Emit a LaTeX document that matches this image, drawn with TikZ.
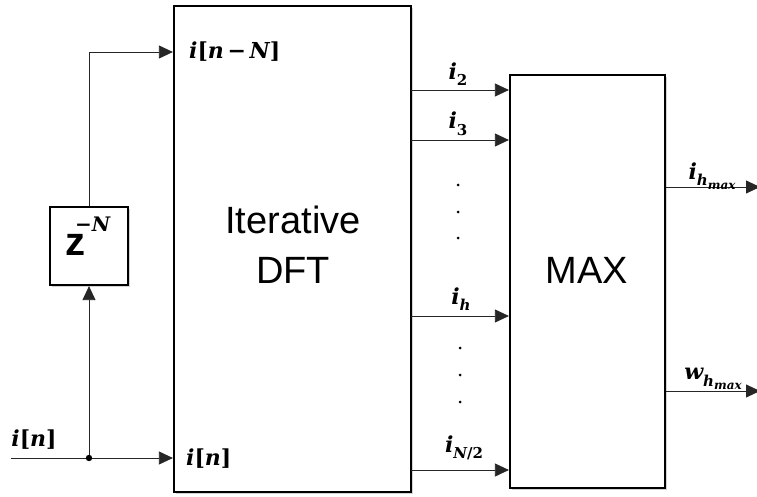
\documentclass[tikz,border=0pt]{standalone}
\usepackage{fontspec}
\setmainfont{Liberation Sans}
\newfontfamily\lf{DejaVu Serif}
\newcommand\bi[1]{{\lf\bfseries\itshape #1}}
\newcommand\bu[1]{{\lf\bfseries #1}}
\newcommand\lsub[1]{\raisebox{-0.3em}{\fontsize{15}{16}\selectfont #1}}
\newcommand\lssub[1]{\raisebox{-0.25em}{\fontsize{12}{13}\selectfont #1}}
\usetikzlibrary{arrows.meta,shadows}
\tikzset{
  blk/.style={draw=black, line width=2.2pt, fill=white, inner sep=0pt,
    drop shadow={shadow xshift=1.6pt, shadow yshift=-1.6pt, opacity=0.35, fill=gray}},
  arr/.style={line width=0.8pt, draw=black!85, -{Triangle[length=14pt,width=13pt]}},
  wire/.style={line width=0.8pt, draw=black!85},
  lbl/.style={font=\fontsize{22}{24}\selectfont, inner sep=0pt},
  big/.style={font=\fontsize{38}{40}\selectfont, inner sep=0pt, anchor=base},
  vdot/.style={fill=black, circle, inner sep=0pt, minimum size=3pt}
}
\begin{document}
\begin{tikzpicture}[x=1pt,y=-1pt]
\useasboundingbox (0,0) rectangle (757,497);
% blocks
\node[blk, minimum width=237pt, minimum height=486pt] (dft) at (292.5,249) {};
\node[blk, minimum width=155pt, minimum height=413pt] (max) at (587.5,281.5) {};
\node[blk, minimum width=78pt, minimum height=78pt] (zb) at (89,246) {};
% block texts
\node[big] (t1) at (293,233) {Iterative};
\node[big] (t2) at (293,283) {DFT};
\node[big] (t3) at (587,283) {MAX};
\node[font=\fontsize{40}{42}\selectfont, inner sep=0pt, anchor=base west] (zz) at (65,255)
  {\textbf{z}\kern-10pt\raisebox{24pt}{\fontsize{20}{21}\selectfont\bu{−}\bi{N}}};
% input
\coordinate (in) at (11,458);
\coordinate (j) at (89,458);
\coordinate (top) at (89,52);
\draw[wire] (in) -- (j);
\draw[arr] (j) -- (j -| dft.west);
\draw[arr] (j) -- (zb.south);
\draw[wire] (zb.north) -- (top);
\draw[arr] (top) -- (top -| dft.west);
\fill (j) circle (3.2pt);
\node[lbl] (lin) at (34,440) {\bi{i}\bu{[}\bi{n}\bu{]}};
\node[lbl, anchor=west] (lin2) at (186,459) {\bi{i}\bu{[}\bi{n}\bu{]}};
\node[lbl, anchor=west] (lnn) at (189,52) {\bi{i}\bu{[}\bi{n}\,\bu{−}\,\bi{N}\bu{]}};
% DFT -> MAX
\coordinate (o2) at (411,90);
\coordinate (o3) at (411,140);
\coordinate (oh) at (411,316);
\coordinate (oN) at (411,470);
\draw[arr] (o2) -- (o2 -| max.west);
\draw[arr] (o3) -- (o3 -| max.west);
\draw[arr] (oh) -- (oh -| max.west);
\draw[arr] (oN) -- (oN -| max.west);
\node[lbl] (l2) at (458,74) {\bi{i}\lsub{\bu{2}}};
\node[lbl] (l3) at (458,124) {\bi{i}\lsub{\bu{3}}};
\node[lbl] (lh) at (461,299) {\bi{i}\lsub{\bi{h}}};
\node[lbl] (lN) at (464,448) {\bi{i}\lsub{\bi{N}\bu{/2}}};
\node[vdot] (d1) at (458,185) {};
\node[vdot] (d2) at (458,212) {};
\node[vdot] (d3) at (458,238) {};
\node[vdot] (d4) at (460,348) {};
\node[vdot] (d5) at (460,375) {};
\node[vdot] (d6) at (460,402) {};
% outputs
\coordinate (e1) at (760,187);
\coordinate (e2) at (760,391);
\draw[arr] (max.east |- e1) -- (e1);
\draw[arr] (max.east |- e2) -- (e2);
\node[lbl] (lo1) at (712,176) {\bi{i}\lsub{\bi{h}\lssub{\bi{max}}}};
\node[lbl] (lo2) at (713,379) {\bi{w}\lsub{\bi{h}\lssub{\bi{max}}}};
\end{tikzpicture}
\end{document}
